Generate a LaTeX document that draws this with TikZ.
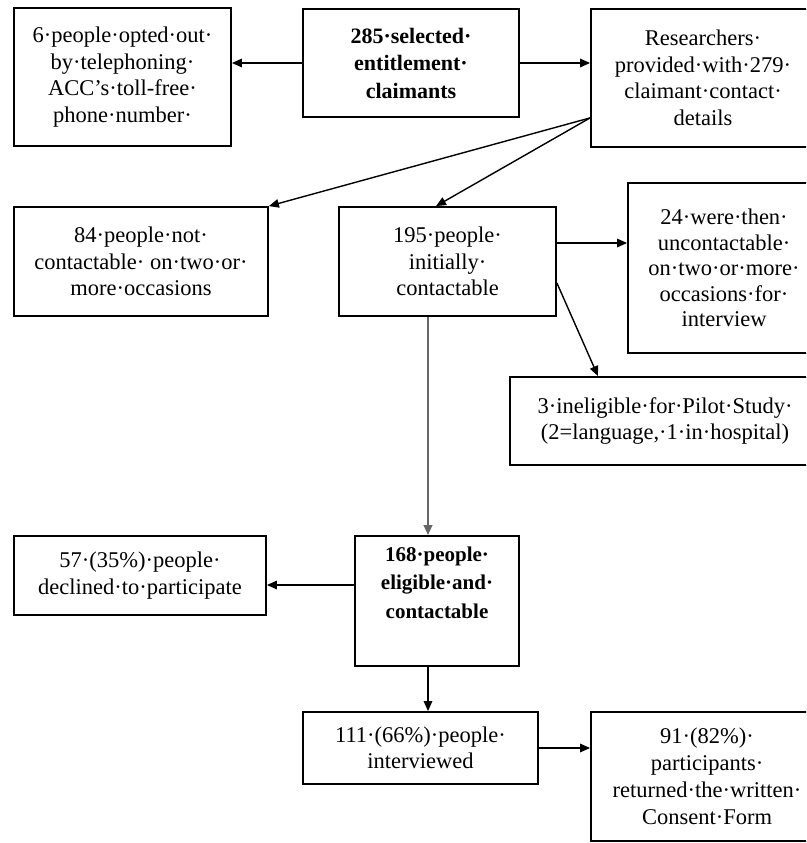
\documentclass[tikz,border=0pt]{standalone}
\usepackage{fontspec}
\setmainfont{Liberation Serif}
\usetikzlibrary{arrows.meta,calc}
\begin{document}
\begin{tikzpicture}[x=1pt,y=-1pt,
  box/.style={draw, line width=1.8pt, align=center, inner sep=0pt,
    font=\fontsize{22.5}{26.5}\selectfont},
  arr/.style={-{Triangle[length=10pt,width=8.5pt]}, line width=1.4pt}]
\useasboundingbox (0,0) rectangle (806,843);
\clip (0,0) rectangle (806,843);
\fill[white] (0,0) rectangle (806,843);
\node[box, minimum width=217pt, minimum height=138pt] (b1) at (122.5,77)
  {6·people·opted·out·\\by·telephoning·\\ACC’s·toll-free·\\phone·number·};
\node[box, minimum width=216pt, minimum height=108pt, font=\fontsize{22}{27.5}\selectfont\bfseries] (b2) at (411,63)
  {285·selected·\\entitlement·\\claimants};
\node[box, minimum width=224pt, minimum height=138pt] (b3) at (703,78)
  {Researchers·\\provided·with·279·\\claimant·contact·\\details};
\node[box, minimum width=254pt, minimum height=109pt] (b4) at (141,261.5)
  {84·people·not·\\contactable·\ on·two·or·\\more·occasions};
\node[box, minimum width=217pt, minimum height=109pt] (b5) at (447.5,261.5)
  {195·people·\\initially·\\contactable};
\node[box, minimum width=192pt, minimum height=170pt, font=\fontsize{22.5}{25.5}\selectfont] (b6) at (724,268)
  {24·were·then·\\uncontactable·\\on·two·or·more·\\occasions·for·\\interview};
\node[box, minimum width=310pt, minimum height=88pt] (b7) at (665,421)
  {3·ineligible·for·Pilot·Study·\\(2=language,·1·in·hospital)};
\node[box, minimum width=164pt, minimum height=130pt, font=\fontsize{21}{28.5}\selectfont\bfseries] (b8) at (437,601)
  {168·people·\\eligible·and·\\contactable\\\strut};
\node[box, minimum width=252pt, minimum height=79pt] (b9) at (140,575.5)
  {57·(35\%)·people·\\declined·to·participate};
\node[box, minimum width=235pt, minimum height=72pt] (b10) at (420.5,748)
  {111·(66\%)·people·\\interviewed};
\node[box, minimum width=232pt, minimum height=129pt, font=\fontsize{22.5}{27}\selectfont] (b11) at (707,776.5)
  {91·(82\%)·\\participants·\\returned·the·written·\\Consent·Form};
% connectors
\draw[arr] (b2.west) -- (b2.west -| b1.east);
\draw[arr] (b2.east) -- (b2.east -| b3.west);
\coordinate (s3) at ([yshift=30pt]b3.south west);
\draw[arr] (s3) -- (b4.north east);
\draw[arr] (s3) -- ([xshift=-11.5pt]b5.north);
\draw[arr] ([yshift=18.5pt]b5.east) -- ([yshift=18.5pt]b5.east -| b6.west);
\draw[arr] ([yshift=-21.5pt]b5.east) -- ([xshift=-67pt]b7.north);
\draw[arr, draw=black!60, line width=2.2pt] ([xshift=-19.5pt]b5.south) -- ([xshift=-19.5pt]b5.south |- b8.north);
\draw[arr] ([yshift=16pt]b8.west) -- ([yshift=16pt]b8.west -| b9.east);
\draw[arr] ([xshift=-9pt]b8.south) -- ([xshift=-9pt]b8.south |- b10.north);
\draw[arr] (b10.east) -- (b10.east -| b11.west);
\end{tikzpicture}
\end{document}
